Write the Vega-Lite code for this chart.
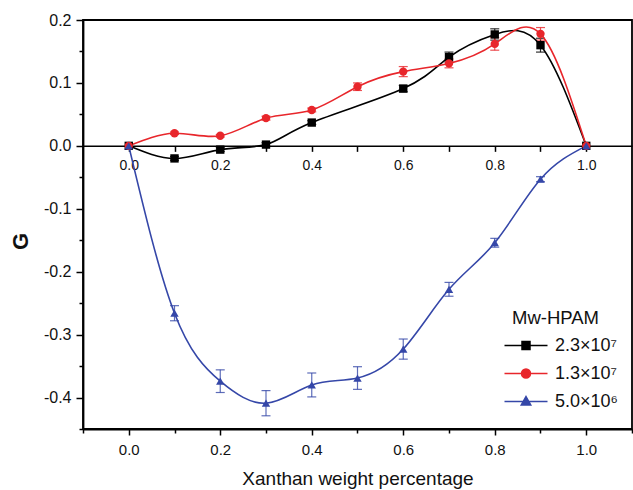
{
  "$schema": "https://vega.github.io/schema/vega-lite/v6.json",
  "width": 549,
  "height": 409,
  "autosize": "none",
  "padding": {"left": 83, "top": 20, "right": 1, "bottom": 61},
  "background": "white",
  "config": {
    "font": "Liberation Sans",
    "view": {"stroke": "#000", "strokeWidth": 1.8},
    "axis": {
      "domainColor": "#000",
      "domainWidth": 1.8,
      "tickColor": "#000",
      "tickWidth": 1.5,
      "labelColor": "#111",
      "titleColor": "#111",
      "grid": false,
      "labelFont": "Liberation Sans",
      "titleFont": "Liberation Sans"
    }
  },
  "data": {
    "values": [
      {"series": "2.3×10⁷", "x": 0.0, "g": 0.0, "err": 0},
      {"series": "2.3×10⁷", "x": 0.1, "g": -0.020, "err": 0.003},
      {"series": "2.3×10⁷", "x": 0.2, "g": -0.006, "err": 0.003},
      {"series": "2.3×10⁷", "x": 0.3, "g": 0.002, "err": 0.003},
      {"series": "2.3×10⁷", "x": 0.4, "g": 0.037, "err": 0.003},
      {"series": "2.3×10⁷", "x": 0.6, "g": 0.091, "err": 0.005},
      {"series": "2.3×10⁷", "x": 0.7, "g": 0.141, "err": 0.008},
      {"series": "2.3×10⁷", "x": 0.8, "g": 0.177, "err": 0.009},
      {"series": "2.3×10⁷", "x": 0.9, "g": 0.160, "err": 0.011},
      {"series": "2.3×10⁷", "x": 1.0, "g": 0.0, "err": 0},
      {"series": "1.3×10⁷", "x": 0.0, "g": 0.0, "err": 0},
      {"series": "1.3×10⁷", "x": 0.1, "g": 0.020, "err": 0.002},
      {"series": "1.3×10⁷", "x": 0.2, "g": 0.016, "err": 0.002},
      {"series": "1.3×10⁷", "x": 0.3, "g": 0.044, "err": 0.003},
      {"series": "1.3×10⁷", "x": 0.4, "g": 0.057, "err": 0.003},
      {"series": "1.3×10⁷", "x": 0.5, "g": 0.094, "err": 0.006},
      {"series": "1.3×10⁷", "x": 0.6, "g": 0.118, "err": 0.008},
      {"series": "1.3×10⁷", "x": 0.7, "g": 0.131, "err": 0.007},
      {"series": "1.3×10⁷", "x": 0.8, "g": 0.162, "err": 0.010},
      {"series": "1.3×10⁷", "x": 0.9, "g": 0.178, "err": 0.010},
      {"series": "1.3×10⁷", "x": 1.0, "g": 0.0, "err": 0},
      {"series": "5.0×10⁶", "x": 0.0, "g": 0.0, "err": 0},
      {"series": "5.0×10⁶", "x": 0.1, "g": -0.266, "err": 0.012},
      {"series": "5.0×10⁶", "x": 0.2, "g": -0.374, "err": 0.018},
      {"series": "5.0×10⁶", "x": 0.3, "g": -0.409, "err": 0.020},
      {"series": "5.0×10⁶", "x": 0.4, "g": -0.380, "err": 0.019},
      {"series": "5.0×10⁶", "x": 0.5, "g": -0.369, "err": 0.018},
      {"series": "5.0×10⁶", "x": 0.6, "g": -0.323, "err": 0.016},
      {"series": "5.0×10⁶", "x": 0.7, "g": -0.228, "err": 0.011},
      {"series": "5.0×10⁶", "x": 0.8, "g": -0.154, "err": 0.007},
      {"series": "5.0×10⁶", "x": 0.9, "g": -0.053, "err": 0.004},
      {"series": "5.0×10⁶", "x": 1.0, "g": 0.0, "err": 0}
    ]
  },
  "resolve": {
    "axis": {"x": "independent", "y": "independent"},
    "legend": {"color": "independent", "shape": "independent"}
  },
  "layer": [
    {
      "transform": [{"filter": "datum.err > 0"}],
      "mark": {"type": "errorbar", "ticks": {"size": 9}, "thickness": 1.2, "opacity": 0.8},
      "encoding": {
        "x": {"field": "x", "type": "quantitative", "scale": {"domain": [-0.1, 1.1], "nice": false, "zero": false}, "axis": null},
        "y": {"field": "g", "type": "quantitative", "scale": {"domain": [-0.45, 0.2], "nice": false, "zero": false}, "axis": null},
        "yError": {"field": "err"},
        "color": {"field": "series", "type": "nominal", "legend": null,
          "scale": {"domain": ["2.3×10⁷", "1.3×10⁷", "5.0×10⁶"], "range": ["#000000", "#e8262b", "#3547a8"]}}
      }
    },
    {
      "mark": {"type": "line", "interpolate": "natural", "strokeWidth": 1.6},
      "encoding": {
        "x": {
          "field": "x", "type": "quantitative",
          "scale": {"domain": [-0.1, 1.1], "nice": false, "zero": false},
          "axis": {
            "orient": "bottom",
            "values": [-0.1, 0, 0.1, 0.2, 0.3, 0.4, 0.5, 0.6, 0.7, 0.8, 0.9, 1.0, 1.1],
            "format": ".1f",
            "labelExpr": "abs(round(datum.value*10)) % 2 == 0 ? replace(datum.label, '−', '-') : ''",
            "tickSize": {"condition": {"test": "abs(round(datum.value*10)) % 2 == 0", "value": 6}, "value": 4},
            "labelFontSize": 15,
            "labelPadding": 7,
            "labelFlush": false,
            "title": "Xanthan weight percentage",
            "titleFontSize": 19,
            "titleFontWeight": "normal",
            "titlePadding": 12
          }
        },
        "y": {
          "field": "g", "type": "quantitative",
          "scale": {"domain": [-0.45, 0.2], "nice": false, "zero": false},
          "axis": {
            "orient": "left",
            "values": [-0.45, -0.4, -0.35, -0.3, -0.25, -0.2, -0.15, -0.1, -0.05, 0, 0.05, 0.1, 0.15, 0.2],
            "format": ".1f",
            "labelExpr": "abs(round(datum.value*20)) % 2 == 0 ? replace(datum.label, '−', '-') : ''",
            "tickSize": {"condition": {"test": "abs(round(datum.value*20)) % 2 == 0", "value": 7}, "value": 4},
            "labelFontSize": 16,
            "labelPadding": 5,
            "labelFlush": false,
            "title": "G",
            "titleFontSize": 22,
            "titleFontWeight": "bold",
            "titleX": -63,
            "titleY": 221,
            "titleAlign": "center",
            "titleBaseline": "middle"
          }
        },
        "color": {
          "field": "series", "type": "nominal",
          "scale": {"domain": ["2.3×10⁷", "1.3×10⁷", "5.0×10⁶"], "range": ["#000000", "#e8262b", "#3547a8"]},
          "legend": {
            "title": "Mw-HPAM",
            "orient": "none",
            "legendX": 429,
            "legendY": 289,
            "padding": 0,
            "titleFontSize": 18.5,
            "titleFontWeight": "normal",
            "titleColor": "#111",
            "titlePadding": 9,
            "labelFontSize": 18,
            "labelColor": "#111",
            "labelOffset": 20,
            "symbolSize": 100,
            "symbolOffset": 5,
            "symbolStrokeWidth": 1.5,
            "rowPadding": 10,
            "encode": {
              "symbols": {
                "update": {
                  "shape": {"signal": "datum.index === 0 ? 'M-4.3,0H4.3M-0.8,-0.8H0.8V0.8H-0.8Z' : datum.index === 1 ? 'M-4.3,0H4.3M0.9,0A0.9,0.9,0,1,1,-0.9,0A0.9,0.9,0,1,1,0.9,0Z' : 'M-4.3,0H4.3M0,-1L0.95,0.7H-0.95Z'"},
                  "fill": {"signal": "scale('color', datum.value)"},
                  "stroke": {"signal": "scale('color', datum.value)"},
                  "opacity": {"value": 1}
                }
              }
            }
          }
        }
      }
    },
    {
      "mark": {"type": "point", "filled": true, "size": 70, "opacity": 1},
      "encoding": {
        "x": {
          "field": "x", "type": "quantitative",
          "scale": {"domain": [-0.1, 1.1], "nice": false, "zero": false},
          "axis": {
            "orient": "top",
            "offset": -125.85,
            "values": [0, 0.1, 0.2, 0.3, 0.4, 0.5, 0.6, 0.7, 0.8, 0.9, 1.0],
            "format": ".1f",
            "labelExpr": "abs(round(datum.value*10)) % 2 == 0 ? datum.label : ''",
            "tickSize": -5.5,
            "domainWidth": 1.5,
            "labelFontSize": 14,
            "labelPadding": -7,
            "labelBaseline": "top",
            "labelFlush": false,
            "title": null
          }
        },
        "y": {"field": "g", "type": "quantitative", "scale": {"domain": [-0.45, 0.2], "nice": false, "zero": false}, "axis": null},
        "color": {"field": "series", "type": "nominal", "legend": null,
          "scale": {"domain": ["2.3×10⁷", "1.3×10⁷", "5.0×10⁶"], "range": ["#000000", "#e8262b", "#3547a8"]}},
        "shape": {"field": "series", "type": "nominal", "legend": null,
          "scale": {"domain": ["2.3×10⁷", "1.3×10⁷", "5.0×10⁶"], "range": ["square", "circle", "triangle-up"]}}
      }
    }
  ]
}
